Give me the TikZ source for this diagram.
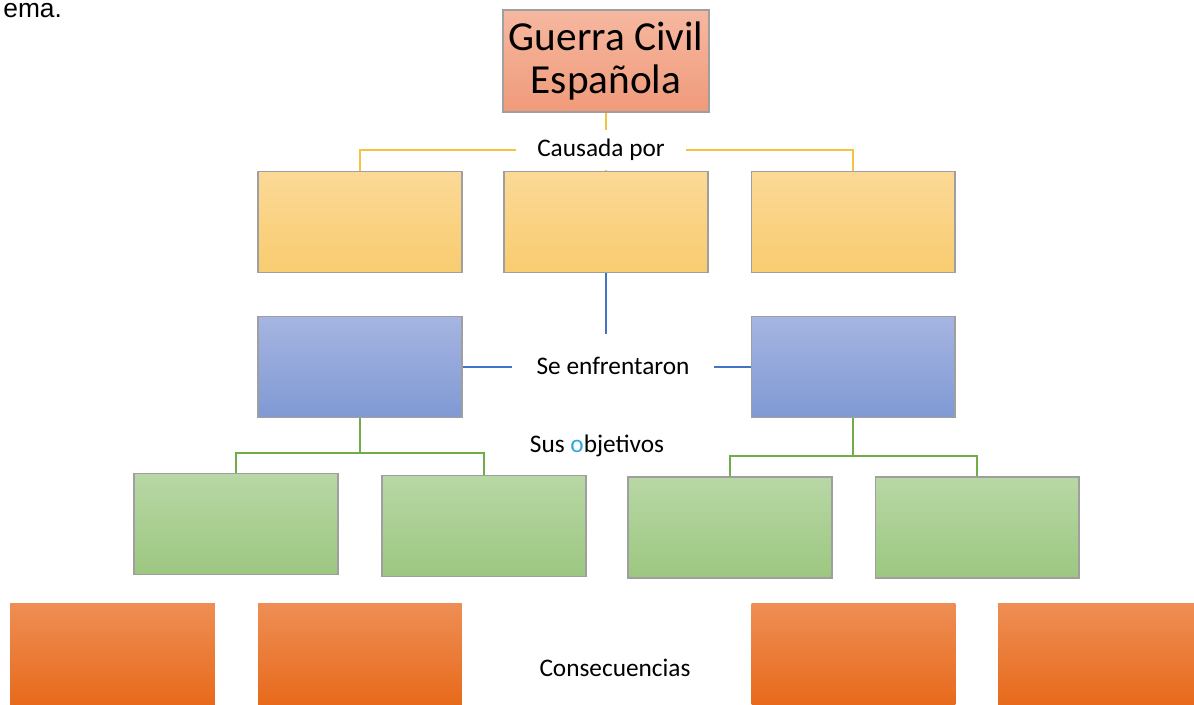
\documentclass[tikz,border=0pt]{standalone}
\usepackage{fontspec}
\setmainfont{Carlito}
\newfontfamily\arialfont{Liberation Sans}
\usepackage{tikz}
\usetikzlibrary{backgrounds}

\definecolor{titletop}{RGB}{246,184,160}
\definecolor{titlebot}{RGB}{240,154,122}
\definecolor{yeltop}{RGB}{251,217,150}
\definecolor{yelbot}{RGB}{248,204,112}
\definecolor{bluetop}{RGB}{166,181,225}
\definecolor{bluebot}{RGB}{128,153,212}
\definecolor{greentop}{RGB}{184,215,165}
\definecolor{greenbot}{RGB}{156,199,128}
\definecolor{orangetop}{RGB}{238,142,84}
\definecolor{orangebot}{RGB}{232,106,28}
\definecolor{yelline}{RGB}{246,194,66}
\definecolor{blueline}{RGB}{68,114,196}
\definecolor{greenline}{RGB}{112,173,71}
\definecolor{oblue}{RGB}{46,166,224}

\begin{document}
\begin{tikzpicture}[x=0.02cm, y=-0.02cm,
    box/.style={draw=gray!75, line width=0.6pt, minimum width=4.08cm,
      minimum height=2.02cm, inner sep=0pt},
    titlebox/.style={box, top color=titletop, bottom color=titlebot,
      minimum width=4.12cm, minimum height=2.04cm, align=center,
      font=\fontsize{23.5}{24.5}\selectfont},
    causebox/.style={box, top color=yeltop, bottom color=yelbot},
    sidebox/.style={box, top color=bluetop, bottom color=bluebot},
    aimbox/.style={box, top color=greentop, bottom color=greenbot},
    effectbox/.style={box, draw=none, top color=orangetop, bottom color=orangebot},
    tag/.style={fill=white, inner sep=0pt, font=\fontsize{14.4}{17}\selectfont},
    yconn/.style={draw=yelline, line width=1.2pt},
    bconn/.style={draw=blueline, line width=1.2pt},
    gconn/.style={draw=greenline, line width=1.2pt}]

        \useasboundingbox (0,0) rectangle (1194,704);

        %Cut-off caption
        \node [anchor=base west, inner sep=0pt, font=\arialfont\fontsize{15}{18}\selectfont]
          (cut) at (3,17) {ema.};

        %Title
        \node [titlebox] (title) at (606,61) {Guerra Civil\\Española};

        %Causes
        \node [causebox] (c1) at (360,222) {};
        \node [causebox] (c2) at (606,222) {};
        \node [causebox] (c3) at (853,222) {};
        \node [tag, minimum width=3.4cm, minimum height=0.8cm] (causa) at (601,150) {Causada por};

        %Sides
        \node [sidebox] (b1) at (360,367) {};
        \node [sidebox] (b2) at (853,367) {};
        \node [tag, minimum width=4.04cm, minimum height=1.28cm] (enfr) at (613,366) {Se enfrentaron};

        %Aims
        \node [aimbox] (g1) at (236,524) {};
        \node [aimbox] (g2) at (484,526) {};
        \node [aimbox] (g3) at (730,527.5) {};
        \node [aimbox] (g4) at (977,527.5) {};
        \node [tag] (obj) at (597,446) {Sus \textcolor{oblue}{o}bjetivos};

        %Effects
        \node [effectbox, minimum width=4.1cm] (o1) at (112.5,654) {};
        \node [effectbox] (o2) at (360,654) {};
        \node [effectbox] (o3) at (853.5,654) {};
        \node [effectbox] (o4) at (1100,654) {};
        \node [tag] (cons) at (615,668) {Consecuencias};

        \coordinate (j1) at (360,453);
        \coordinate (j2) at (853,456);

        \begin{pgfonlayer}{background}
          \draw [yconn] (title.south) -- (c2.north);
          \draw [yconn] (c1.north) |- (causa.west);
          \draw [yconn] (causa.east) -| (c3.north);
          \draw [bconn] (c2.south) -- (c2.south |- enfr.north);
          \draw [bconn] (b1.east) -- (b1.east -| enfr.west);
          \draw [bconn] (b2.west -| enfr.east) -- (b2.west);
          \draw [gconn] (b1.south) -- (j1);
          \draw [gconn] (g1.north) |- (j1) -| (g2.north);
          \draw [gconn] (b2.south) -- (j2);
          \draw [gconn] (g3.north) |- (j2) -| (g4.north);
        \end{pgfonlayer}
      \end{tikzpicture}
\end{document}
